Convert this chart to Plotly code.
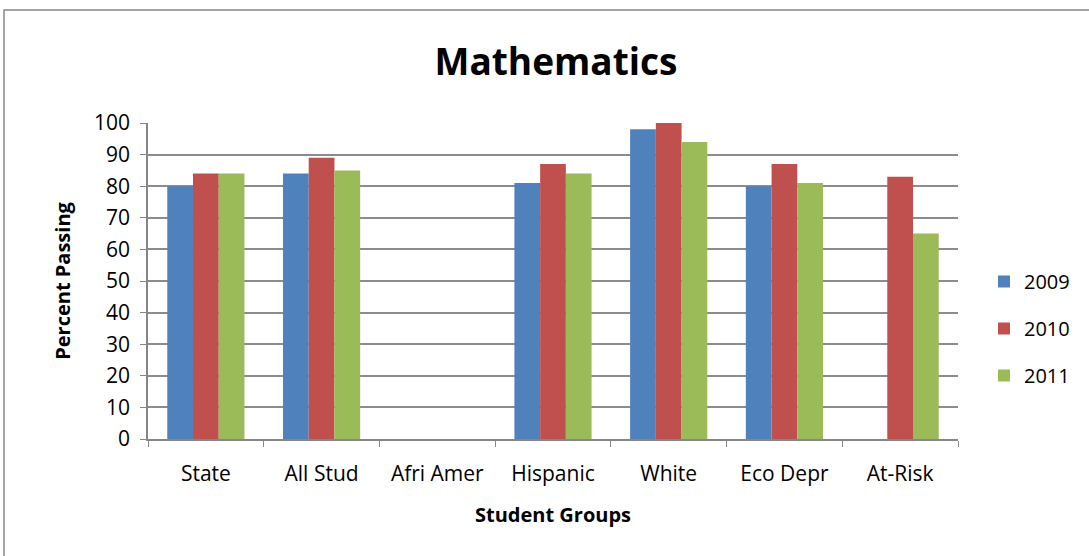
import plotly.graph_objects as go

# Student group results by year
groups = ["State", "All Stud", "Afri Amer", "Hispanic", "White", "Eco Depr", "At-Risk"]
pass_2009 = [80, 84, None, 81, 98, 80, None]
pass_2010 = [84, 89, None, 87, 100, 87, 83]
pass_2011 = [84, 85, None, 84, 94, 81, 65]
years = ["2009", "2010", "2011"]
colors = ["#4F81BD", "#C0504D", "#9BBB59"]

W, H = 1089, 556
ml, mr, mt, mb = 148, 131, 123, 117
pw, ph = W - ml - mr, H - mt - mb


def px_x(x):
    return (x - ml) / pw


def px_y(y):
    return (H - mb - y) / ph


FONT = "Open Sans, Liberation Sans, sans-serif"

fig = go.Figure()
for name, vals, col in zip(years, [pass_2009, pass_2010, pass_2011], colors):
    fig.add_trace(go.Bar(
        x=groups, y=vals, name=name, legendgroup=name,
        marker=dict(color=col, line=dict(width=0)),
    ))

fig.update_layout(
    width=W, height=H,
    margin=dict(l=ml, r=mr, t=mt, b=mb, autoexpand=False),
    paper_bgcolor="white", plot_bgcolor="white",
    barmode="group", bargap=0.333, bargroupgap=0,
    font=dict(family=FONT, color="black"),
    title=dict(text="<b>Mathematics</b>", x=px_x(556), xref="paper", xanchor="center",
               y=1 - 62 / H, yanchor="middle", font=dict(size=37, family=FONT)),
    legend=dict(x=px_x(984), y=px_y(262), xanchor="left", yanchor="top",
                font=dict(size=20), tracegroupgap=18, itemwidth=30,
                bgcolor="rgba(0,0,0,0)"),
    xaxis=dict(
        showline=True, linecolor="#868686", linewidth=1.5,
        ticks="outside", tickson="boundaries", ticklen=6, tickcolor="#868686",
        tickfont=dict(size=21), showgrid=False, ticklabelstandoff=15,
        title=dict(text="<b>Student Groups</b>", font=dict(size=20), standoff=22),
    ),
    yaxis=dict(
        range=[0, 100], dtick=10, showline=True, linecolor="#868686", linewidth=1.5,
        ticks="outside", ticklen=6, tickcolor="#868686",
        tickfont=dict(size=21), gridcolor="#8C8C8C", gridwidth=1.5,
        zeroline=False, ticklabelstandoff=6,
        title=dict(text="<b>Percent Passing</b>", font=dict(size=20), standoff=18),
    ),
    shapes=[dict(type="rect", xref="paper", yref="paper",
                 x0=px_x(4), x1=px_x(1095), y0=px_y(560), y1=px_y(10),
                 line=dict(color="#868686", width=1.5), layer="below")],
)

fig.write_html("out.html")
